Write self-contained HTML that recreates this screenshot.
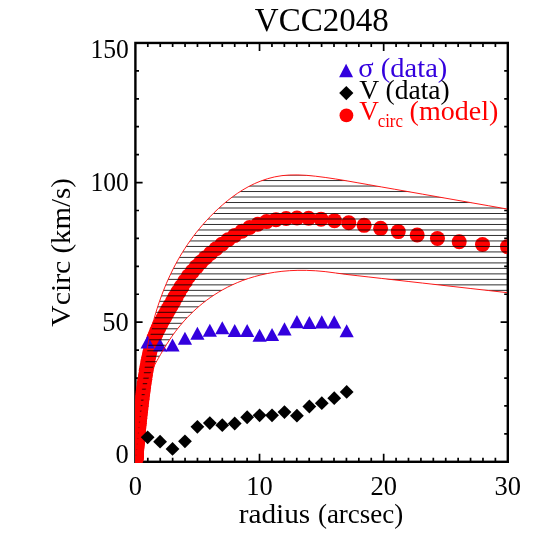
<!DOCTYPE html>
<html><head><meta charset="utf-8"><title>VCC2048</title>
<style>html,body{margin:0;padding:0;background:#fff}svg{display:block}</style></head>
<body>
<svg width="548" height="548" viewBox="0 0 548 548">
<defs><clipPath id="pc"><rect x="135.20" y="43.65" width="371.90" height="418.85"/></clipPath>
<clipPath id="hc"><polygon points="135.50,461.30 135.51,459.35 135.51,459.31 135.51,459.27 135.51,459.24 135.52,459.20 135.52,459.16 135.52,459.12 135.52,459.08 135.52,459.04 135.52,458.99 135.52,458.95 135.52,458.91 135.52,458.86 135.52,458.81 135.53,458.77 135.53,458.72 135.53,458.67 135.53,458.62 135.53,458.57 135.53,458.52 135.53,458.47 135.54,458.42 135.54,458.36 135.54,458.31 135.54,458.25 135.55,458.19 135.55,458.14 135.55,458.08 135.55,458.02 135.56,457.95 135.56,457.89 135.56,457.83 135.57,457.76 135.57,457.69 135.57,457.62 135.58,457.55 135.58,457.48 135.58,457.41 135.59,457.33 135.59,457.25 135.60,457.17 135.60,457.09 135.61,457.01 135.62,456.92 135.62,456.83 135.63,456.74 135.63,456.65 135.64,456.55 135.65,456.45 135.66,456.35 135.67,456.24 135.67,456.14 135.68,456.02 135.69,455.91 135.70,455.79 135.71,455.66 135.73,455.53 135.74,455.40 135.75,455.26 135.76,455.12 135.78,454.97 135.79,454.81 135.81,454.65 135.82,454.48 135.84,454.31 135.86,454.12 135.88,453.93 135.90,453.73 135.92,453.52 135.94,453.30 135.97,453.07 135.99,452.83 136.02,452.58 136.04,452.31 136.07,452.03 136.10,451.74 136.14,451.43 136.17,451.10 136.21,450.76 136.24,450.40 136.28,450.01 136.32,449.61 136.37,449.18 136.41,448.73 136.46,448.25 136.51,447.74 136.57,447.20 136.62,446.63 136.68,446.03 136.75,445.39 136.81,444.71 136.88,443.99 136.96,443.22 137.03,442.41 137.12,441.54 137.20,440.62 137.29,439.64 137.39,438.60 137.49,437.49 137.59,436.31 137.70,435.04 137.82,433.70 137.94,432.26 138.07,430.72 138.21,429.08 138.36,427.33 138.51,425.48 138.67,423.52 138.84,421.46 139.01,419.29 139.20,417.02 139.40,414.65 139.60,412.17 139.82,409.60 140.05,406.93 140.29,404.17 140.55,401.31 140.82,398.37 141.10,395.35 141.40,392.25 141.71,389.07 142.04,385.84 142.39,382.56 142.76,379.23 143.14,375.87 143.55,372.49 143.98,369.11 144.43,365.73 144.90,362.38 145.40,359.04 145.93,355.71 146.48,352.40 147.07,349.10 147.68,345.80 148.33,342.51 149.01,339.22 149.73,335.93 150.49,332.63 151.28,329.32 152.12,325.99 153.00,322.63 153.94,319.23 154.92,315.80 155.95,312.33 157.04,308.82 158.18,305.28 159.39,301.71 160.66,298.10 161.99,294.46 163.40,290.78 164.89,287.08 166.45,283.34 168.09,279.58 169.83,275.79 171.65,271.97 173.57,268.12 175.60,264.26 177.73,260.37 179.98,256.46 182.34,252.53 184.83,248.58 187.45,244.62 190.22,240.64 193.13,236.66 196.19,232.66 199.42,228.66 202.81,224.66 206.39,220.66 210.16,216.65 214.13,212.65 218.31,208.67 222.72,204.71 227.35,200.82 232.24,197.02 237.38,193.37 242.80,189.88 248.50,186.62 254.51,183.64 260.84,180.99 267.50,178.72 274.52,176.92 281.91,175.65 289.70,174.99 297.90,174.91 306.53,175.34 315.62,176.22 325.20,177.45 335.29,178.94 345.91,180.69 357.10,182.66 368.88,184.73 381.29,186.91 394.35,189.20 408.12,191.62 422.61,194.17 437.88,196.85 453.96,199.67 470.89,202.65 488.72,205.78 507.50,209.08 507.50,292.69 488.72,290.56 470.89,288.54 453.96,286.62 437.88,284.80 422.61,283.08 408.12,281.44 394.35,279.88 381.29,278.40 368.88,276.99 357.10,275.66 345.91,274.39 335.29,272.94 325.20,271.62 315.62,270.77 306.53,270.36 297.90,270.34 289.70,270.67 281.91,271.33 274.52,272.28 267.50,273.49 260.84,274.94 254.51,276.60 248.50,278.44 242.80,280.45 237.38,282.60 232.24,284.88 227.35,287.28 222.72,289.76 218.31,292.33 214.13,294.97 210.16,297.67 206.39,300.41 202.81,303.19 199.42,306.00 196.19,308.82 193.13,311.66 190.22,314.50 187.45,317.34 184.83,320.17 182.34,322.99 179.98,325.80 177.73,328.58 175.60,331.34 173.57,334.07 171.65,336.77 169.83,339.44 168.09,342.07 166.45,344.65 164.89,347.18 163.40,349.64 161.99,352.01 160.66,354.30 159.39,356.49 158.18,358.58 157.04,360.60 155.95,362.58 154.92,364.52 153.94,366.46 153.00,368.40 152.12,370.36 151.28,372.36 150.49,374.39 149.73,376.48 149.01,378.62 148.33,380.84 147.68,383.16 147.07,385.59 146.48,388.10 145.93,390.64 145.40,393.16 144.90,395.63 144.43,398.00 143.98,400.26 143.55,402.38 143.14,404.42 142.76,406.38 142.39,408.30 142.04,410.19 141.71,412.07 141.40,413.97 141.10,415.89 140.82,417.84 140.55,419.83 140.29,421.81 140.05,423.79 139.82,425.73 139.60,427.62 139.40,429.44 139.20,431.19 139.01,432.85 138.84,434.43 138.67,435.91 138.51,437.32 138.36,438.65 138.21,439.90 138.07,441.09 137.94,442.21 137.82,443.28 137.70,444.28 137.59,445.23 137.49,446.13 137.39,446.98 137.29,447.79 137.20,448.55 137.12,449.27 137.03,449.95 136.96,450.60 136.88,451.21 136.81,451.78 136.75,452.33 136.68,452.85 136.62,453.33 136.57,453.80 136.51,454.23 136.46,454.65 136.41,455.04 136.37,455.41 136.32,455.76 136.28,456.09 136.24,456.40 136.21,456.70 136.17,456.98 136.14,457.24 136.10,457.49 136.07,457.73 136.04,457.96 136.02,458.17 135.99,458.37 135.97,458.56 135.94,458.74 135.92,458.90 135.90,459.06 135.88,459.22 135.86,459.36 135.84,459.49 135.82,459.62 135.81,459.74 135.79,459.85 135.78,459.96 135.76,460.06 135.75,460.16 135.74,460.25 135.73,460.33 135.71,460.41 135.70,460.49 135.69,460.56 135.68,460.63 135.67,460.69 135.67,460.75 135.66,460.81 135.65,460.86 135.64,460.91 135.63,460.96 135.63,461.00 135.62,461.04 135.62,461.08 135.61,461.12 135.60,461.15 135.60,461.18 135.59,461.21 135.59,461.24 135.58,461.27 135.58,461.29 135.58,461.31 135.57,461.33 135.57,461.35 135.57,461.37 135.56,461.39 135.56,461.41 135.56,461.42 135.55,461.43 135.55,461.45 135.55,461.46 135.55,461.47 135.54,461.48 135.54,461.49 135.54,461.50 135.54,461.50 135.53,461.51 135.53,461.52 135.53,461.52 135.53,461.53 135.53,461.53 135.53,461.54 135.53,461.54 135.52,461.54 135.52,461.55 135.52,461.55 135.52,461.55 135.52,461.55 135.52,461.55 135.52,461.55 135.52,461.56 135.52,461.56 135.52,461.56 135.51,461.56 135.51,461.56 135.51,461.55 135.51,461.55 135.50,461.30"/></clipPath></defs>
<rect width="548" height="548" fill="#fff"/>
<rect x="135.40" y="42.95" width="372.40" height="418.85" fill="none" stroke="#000" stroke-width="2.4"/>
<path d="M147.81 461.80v-4.00M147.81 42.95v4.00M160.23 461.80v-4.00M160.23 42.95v4.00M172.64 461.80v-4.00M172.64 42.95v4.00M185.05 461.80v-4.00M185.05 42.95v4.00M197.47 461.80v-4.00M197.47 42.95v4.00M209.88 461.80v-4.00M209.88 42.95v4.00M222.29 461.80v-4.00M222.29 42.95v4.00M234.71 461.80v-4.00M234.71 42.95v4.00M247.12 461.80v-4.00M247.12 42.95v4.00M259.53 461.80v-8.00M259.53 42.95v8.00M271.95 461.80v-4.00M271.95 42.95v4.00M284.36 461.80v-4.00M284.36 42.95v4.00M296.77 461.80v-4.00M296.77 42.95v4.00M309.19 461.80v-4.00M309.19 42.95v4.00M321.60 461.80v-4.00M321.60 42.95v4.00M334.01 461.80v-4.00M334.01 42.95v4.00M346.43 461.80v-4.00M346.43 42.95v4.00M358.84 461.80v-4.00M358.84 42.95v4.00M371.25 461.80v-4.00M371.25 42.95v4.00M383.67 461.80v-8.00M383.67 42.95v8.00M396.08 461.80v-4.00M396.08 42.95v4.00M408.49 461.80v-4.00M408.49 42.95v4.00M420.91 461.80v-4.00M420.91 42.95v4.00M433.32 461.80v-4.00M433.32 42.95v4.00M445.73 461.80v-4.00M445.73 42.95v4.00M458.15 461.80v-4.00M458.15 42.95v4.00M470.56 461.80v-4.00M470.56 42.95v4.00M482.97 461.80v-4.00M482.97 42.95v4.00M495.39 461.80v-4.00M495.39 42.95v4.00M135.40 433.88h3.60M507.80 433.88h-3.60M135.40 405.95h3.60M507.80 405.95h-3.60M135.40 378.03h3.60M507.80 378.03h-3.60M135.40 350.11h3.60M507.80 350.11h-3.60M135.40 322.18h7.20M507.80 322.18h-7.20M135.40 294.26h3.60M507.80 294.26h-3.60M135.40 266.34h3.60M507.80 266.34h-3.60M135.40 238.41h3.60M507.80 238.41h-3.60M135.40 210.49h3.60M507.80 210.49h-3.60M135.40 182.57h7.20M507.80 182.57h-7.20M135.40 154.64h3.60M507.80 154.64h-3.60M135.40 126.72h3.60M507.80 126.72h-3.60M135.40 98.80h3.60M507.80 98.80h-3.60M135.40 70.87h3.60M507.80 70.87h-3.60" stroke="#000" stroke-width="1.7" fill="none"/>
<g clip-path="url(#pc)">
<circle cx="135.86" cy="459.59" r="7.50" fill="#f00"/>
<circle cx="135.88" cy="459.27" r="7.50" fill="#f00"/>
<circle cx="135.91" cy="458.94" r="7.50" fill="#f00"/>
<circle cx="135.94" cy="458.57" r="7.50" fill="#f00"/>
<circle cx="135.97" cy="458.19" r="7.50" fill="#f00"/>
<circle cx="136.00" cy="457.77" r="7.50" fill="#f00"/>
<circle cx="136.04" cy="457.33" r="7.50" fill="#f00"/>
<circle cx="136.08" cy="456.85" r="7.50" fill="#f00"/>
<circle cx="136.12" cy="456.34" r="7.50" fill="#f00"/>
<circle cx="136.16" cy="455.80" r="7.50" fill="#f00"/>
<circle cx="136.21" cy="455.22" r="7.50" fill="#f00"/>
<circle cx="136.26" cy="454.61" r="7.50" fill="#f00"/>
<circle cx="136.32" cy="453.95" r="7.50" fill="#f00"/>
<circle cx="136.38" cy="453.25" r="7.50" fill="#f00"/>
<circle cx="136.44" cy="452.50" r="7.50" fill="#f00"/>
<circle cx="136.51" cy="451.71" r="7.50" fill="#f00"/>
<circle cx="136.58" cy="450.87" r="7.50" fill="#f00"/>
<circle cx="136.66" cy="449.97" r="7.50" fill="#f00"/>
<circle cx="136.74" cy="449.02" r="7.50" fill="#f00"/>
<circle cx="136.83" cy="448.01" r="7.50" fill="#f00"/>
<circle cx="136.93" cy="446.94" r="7.50" fill="#f00"/>
<circle cx="137.03" cy="445.80" r="7.50" fill="#f00"/>
<circle cx="137.14" cy="444.59" r="7.50" fill="#f00"/>
<circle cx="137.26" cy="443.31" r="7.50" fill="#f00"/>
<circle cx="137.39" cy="441.96" r="7.50" fill="#f00"/>
<circle cx="137.52" cy="440.52" r="7.50" fill="#f00"/>
<circle cx="137.67" cy="439.00" r="7.50" fill="#f00"/>
<circle cx="137.82" cy="437.40" r="7.50" fill="#f00"/>
<circle cx="137.99" cy="435.70" r="7.50" fill="#f00"/>
<circle cx="138.17" cy="433.90" r="7.50" fill="#f00"/>
<circle cx="138.36" cy="432.00" r="7.50" fill="#f00"/>
<circle cx="138.57" cy="430.00" r="7.50" fill="#f00"/>
<circle cx="138.79" cy="427.88" r="7.50" fill="#f00"/>
<circle cx="139.02" cy="425.65" r="7.50" fill="#f00"/>
<circle cx="139.28" cy="423.29" r="7.50" fill="#f00"/>
<circle cx="139.55" cy="420.81" r="7.50" fill="#f00"/>
<circle cx="139.84" cy="418.19" r="7.50" fill="#f00"/>
<circle cx="140.16" cy="415.43" r="7.50" fill="#f00"/>
<circle cx="140.49" cy="412.53" r="7.50" fill="#f00"/>
<circle cx="140.85" cy="409.48" r="7.50" fill="#f00"/>
<circle cx="141.24" cy="406.26" r="7.50" fill="#f00"/>
<circle cx="141.65" cy="402.89" r="7.50" fill="#f00"/>
<circle cx="142.09" cy="399.34" r="7.50" fill="#f00"/>
<circle cx="142.57" cy="395.63" r="7.50" fill="#f00"/>
<circle cx="143.07" cy="391.76" r="7.50" fill="#f00"/>
<circle cx="143.62" cy="387.74" r="7.50" fill="#f00"/>
<circle cx="144.20" cy="383.60" r="7.50" fill="#f00"/>
<circle cx="144.83" cy="379.35" r="7.50" fill="#f00"/>
<circle cx="145.50" cy="375.01" r="7.50" fill="#f00"/>
<circle cx="146.22" cy="370.60" r="7.50" fill="#f00"/>
<circle cx="147.00" cy="366.17" r="7.50" fill="#f00"/>
<circle cx="147.82" cy="361.74" r="7.51" fill="#f00"/>
<circle cx="148.71" cy="357.36" r="7.51" fill="#f00"/>
<circle cx="149.66" cy="353.07" r="7.52" fill="#f00"/>
<circle cx="150.68" cy="348.94" r="7.54" fill="#f00"/>
<circle cx="151.78" cy="345.02" r="7.56" fill="#f00"/>
<circle cx="152.95" cy="341.29" r="7.59" fill="#f00"/>
<circle cx="154.20" cy="337.75" r="7.63" fill="#f00"/>
<circle cx="155.55" cy="334.34" r="7.68" fill="#f00"/>
<circle cx="157.00" cy="331.04" r="7.74" fill="#f00"/>
<circle cx="158.54" cy="327.79" r="7.81" fill="#f00"/>
<circle cx="160.20" cy="324.53" r="7.88" fill="#f00"/>
<circle cx="161.98" cy="321.19" r="7.95" fill="#f00"/>
<circle cx="163.89" cy="317.70" r="8.01" fill="#f00"/>
<circle cx="165.93" cy="314.00" r="8.06" fill="#f00"/>
<circle cx="168.12" cy="310.09" r="8.09" fill="#f00"/>
<circle cx="170.47" cy="305.94" r="8.10" fill="#f00"/>
<circle cx="172.99" cy="301.51" r="8.09" fill="#f00"/>
<circle cx="175.69" cy="296.79" r="8.05" fill="#f00"/>
<circle cx="178.59" cy="291.77" r="8.00" fill="#f00"/>
<circle cx="181.69" cy="286.59" r="7.93" fill="#f00"/>
<circle cx="185.02" cy="281.39" r="7.86" fill="#f00"/>
<circle cx="188.58" cy="276.35" r="7.79" fill="#f00"/>
<circle cx="192.40" cy="271.48" r="7.73" fill="#f00"/>
<circle cx="196.50" cy="266.78" r="7.67" fill="#f00"/>
<circle cx="200.89" cy="262.20" r="7.62" fill="#f00"/>
<circle cx="205.60" cy="257.71" r="7.58" fill="#f00"/>
<circle cx="210.65" cy="253.25" r="7.56" fill="#f00"/>
<circle cx="216.06" cy="248.76" r="7.54" fill="#f00"/>
<circle cx="221.87" cy="244.24" r="7.52" fill="#f00"/>
<circle cx="228.09" cy="239.77" r="7.51" fill="#f00"/>
<circle cx="234.75" cy="235.43" r="7.51" fill="#f00"/>
<circle cx="241.90" cy="231.32" r="7.50" fill="#f00"/>
<circle cx="249.56" cy="227.55" r="7.50" fill="#f00"/>
<circle cx="257.78" cy="224.26" r="7.50" fill="#f00"/>
<circle cx="266.58" cy="221.60" r="7.50" fill="#f00"/>
<circle cx="276.02" cy="219.67" r="7.50" fill="#f00"/>
<circle cx="286.14" cy="218.47" r="7.50" fill="#f00"/>
<circle cx="296.99" cy="218.00" r="7.50" fill="#f00"/>
<circle cx="308.62" cy="218.24" r="7.50" fill="#f00"/>
<circle cx="321.09" cy="219.14" r="7.50" fill="#f00"/>
<circle cx="334.45" cy="220.66" r="7.50" fill="#f00"/>
<circle cx="348.78" cy="222.76" r="7.50" fill="#f00"/>
<circle cx="364.14" cy="225.34" r="7.50" fill="#f00"/>
<circle cx="380.60" cy="228.33" r="7.50" fill="#f00"/>
<circle cx="398.25" cy="231.60" r="7.50" fill="#f00"/>
<circle cx="417.17" cy="235.03" r="7.50" fill="#f00"/>
<circle cx="437.46" cy="238.46" r="7.50" fill="#f00"/>
<circle cx="459.20" cy="241.69" r="7.50" fill="#f00"/>
<circle cx="482.51" cy="244.51" r="7.50" fill="#f00"/>
<circle cx="507.50" cy="246.67" r="7.50" fill="#f00"/>
<polygon points="140.54,348.50 147.64,335.40 154.74,348.50" fill="#3300de"/>
<polygon points="152.98,351.56 160.08,338.46 167.18,351.56" fill="#3300de"/>
<polygon points="165.42,351.56 172.52,338.46 179.62,351.56" fill="#3300de"/>
<polygon points="177.86,344.87 184.96,331.77 192.06,344.87" fill="#3300de"/>
<polygon points="190.30,339.86 197.40,326.76 204.50,339.86" fill="#3300de"/>
<polygon points="202.74,336.79 209.84,323.69 216.94,336.79" fill="#3300de"/>
<polygon points="215.18,334.28 222.28,321.18 229.38,334.28" fill="#3300de"/>
<polygon points="227.62,337.07 234.72,323.97 241.82,337.07" fill="#3300de"/>
<polygon points="240.06,337.07 247.16,323.97 254.26,337.07" fill="#3300de"/>
<polygon points="252.50,341.81 259.60,328.71 266.70,341.81" fill="#3300de"/>
<polygon points="264.94,341.11 272.04,328.01 279.14,341.11" fill="#3300de"/>
<polygon points="277.38,335.40 284.48,322.30 291.58,335.40" fill="#3300de"/>
<polygon points="289.82,328.15 296.92,315.05 304.02,328.15" fill="#3300de"/>
<polygon points="302.26,328.99 309.36,315.89 316.46,328.99" fill="#3300de"/>
<polygon points="314.70,328.43 321.80,315.33 328.90,328.43" fill="#3300de"/>
<polygon points="327.14,328.43 334.24,315.33 341.34,328.43" fill="#3300de"/>
<polygon points="339.58,337.35 346.68,324.25 353.78,337.35" fill="#3300de"/>
<polygon points="140.74,437.31 147.64,430.41 154.54,437.31 147.64,444.21" fill="#000"/>
<polygon points="153.18,441.63 160.08,434.73 166.98,441.63 160.08,448.53" fill="#000"/>
<polygon points="165.62,448.88 172.52,441.98 179.42,448.88 172.52,455.78" fill="#000"/>
<polygon points="178.06,441.35 184.96,434.45 191.86,441.35 184.96,448.25" fill="#000"/>
<polygon points="190.50,426.86 197.40,419.96 204.30,426.86 197.40,433.76" fill="#000"/>
<polygon points="202.94,423.10 209.84,416.20 216.74,423.10 209.84,430.00" fill="#000"/>
<polygon points="215.38,425.19 222.28,418.29 229.18,425.19 222.28,432.09" fill="#000"/>
<polygon points="227.82,423.52 234.72,416.62 241.62,423.52 234.72,430.42" fill="#000"/>
<polygon points="240.26,417.25 247.16,410.35 254.06,417.25 247.16,424.15" fill="#000"/>
<polygon points="252.70,415.30 259.60,408.40 266.50,415.30 259.60,422.20" fill="#000"/>
<polygon points="265.14,415.30 272.04,408.40 278.94,415.30 272.04,422.20" fill="#000"/>
<polygon points="277.58,412.09 284.48,405.19 291.38,412.09 284.48,418.99" fill="#000"/>
<polygon points="290.02,415.71 296.92,408.81 303.82,415.71 296.92,422.61" fill="#000"/>
<polygon points="302.46,406.52 309.36,399.62 316.26,406.52 309.36,413.42" fill="#000"/>
<polygon points="314.90,403.17 321.80,396.27 328.70,403.17 321.80,410.07" fill="#000"/>
<polygon points="327.34,398.16 334.24,391.26 341.14,398.16 334.24,405.06" fill="#000"/>
<polygon points="339.78,391.89 346.68,384.99 353.58,391.89 346.68,398.79" fill="#000"/>
<g clip-path="url(#hc)" stroke="#000" stroke-width="0.82">
<line x1="130" x2="512" y1="153.11" y2="153.11"/>
<line x1="130" x2="512" y1="158.60" y2="158.60"/>
<line x1="130" x2="512" y1="164.09" y2="164.09"/>
<line x1="130" x2="512" y1="169.58" y2="169.58"/>
<line x1="130" x2="512" y1="175.07" y2="175.07"/>
<line x1="130" x2="512" y1="180.56" y2="180.56"/>
<line x1="130" x2="512" y1="186.05" y2="186.05"/>
<line x1="130" x2="512" y1="191.54" y2="191.54"/>
<line x1="130" x2="512" y1="197.03" y2="197.03"/>
<line x1="130" x2="512" y1="202.52" y2="202.52"/>
<line x1="130" x2="512" y1="208.01" y2="208.01"/>
<line x1="130" x2="512" y1="213.50" y2="213.50"/>
<line x1="130" x2="512" y1="218.99" y2="218.99"/>
<line x1="130" x2="512" y1="224.48" y2="224.48"/>
<line x1="130" x2="512" y1="229.97" y2="229.97"/>
<line x1="130" x2="512" y1="235.46" y2="235.46"/>
<line x1="130" x2="512" y1="240.95" y2="240.95"/>
<line x1="130" x2="512" y1="246.44" y2="246.44"/>
<line x1="130" x2="512" y1="251.93" y2="251.93"/>
<line x1="130" x2="512" y1="257.42" y2="257.42"/>
<line x1="130" x2="512" y1="262.91" y2="262.91"/>
<line x1="130" x2="512" y1="268.40" y2="268.40"/>
<line x1="130" x2="512" y1="273.89" y2="273.89"/>
<line x1="130" x2="512" y1="279.38" y2="279.38"/>
<line x1="130" x2="512" y1="284.87" y2="284.87"/>
<line x1="130" x2="512" y1="290.36" y2="290.36"/>
<line x1="130" x2="512" y1="295.85" y2="295.85"/>
<line x1="130" x2="512" y1="301.34" y2="301.34"/>
<line x1="130" x2="512" y1="306.83" y2="306.83"/>
<line x1="130" x2="512" y1="312.32" y2="312.32"/>
<line x1="130" x2="512" y1="317.81" y2="317.81"/>
<line x1="130" x2="512" y1="323.30" y2="323.30"/>
<line x1="130" x2="512" y1="328.79" y2="328.79"/>
<line x1="130" x2="512" y1="334.28" y2="334.28"/>
<line x1="130" x2="512" y1="339.77" y2="339.77"/>
<line x1="130" x2="512" y1="345.26" y2="345.26"/>
<line x1="130" x2="512" y1="350.75" y2="350.75"/>
<line x1="130" x2="512" y1="356.24" y2="356.24"/>
<line x1="130" x2="512" y1="361.73" y2="361.73"/>
<line x1="130" x2="512" y1="367.22" y2="367.22"/>
<line x1="130" x2="512" y1="372.71" y2="372.71"/>
<line x1="130" x2="512" y1="378.20" y2="378.20"/>
<line x1="130" x2="512" y1="383.69" y2="383.69"/>
<line x1="130" x2="512" y1="389.18" y2="389.18"/>
<line x1="130" x2="512" y1="394.67" y2="394.67"/>
<line x1="130" x2="512" y1="400.16" y2="400.16"/>
<line x1="130" x2="512" y1="405.65" y2="405.65"/>
<line x1="130" x2="512" y1="411.14" y2="411.14"/>
<line x1="130" x2="512" y1="416.63" y2="416.63"/>
<line x1="130" x2="512" y1="422.12" y2="422.12"/>
<line x1="130" x2="512" y1="427.61" y2="427.61"/>
<line x1="130" x2="512" y1="433.10" y2="433.10"/>
<line x1="130" x2="512" y1="438.59" y2="438.59"/>
<line x1="130" x2="512" y1="444.08" y2="444.08"/>
<line x1="130" x2="512" y1="449.57" y2="449.57"/>
<line x1="130" x2="512" y1="455.06" y2="455.06"/>
<line x1="130" x2="512" y1="460.55" y2="460.55"/>
<line x1="130" x2="512" y1="466.04" y2="466.04"/>
</g>
<polyline fill="none" stroke="#f00" stroke-width="0.9" points="135.50,461.30 135.51,459.35 135.51,459.31 135.51,459.27 135.51,459.24 135.52,459.20 135.52,459.16 135.52,459.12 135.52,459.08 135.52,459.04 135.52,458.99 135.52,458.95 135.52,458.91 135.52,458.86 135.52,458.81 135.53,458.77 135.53,458.72 135.53,458.67 135.53,458.62 135.53,458.57 135.53,458.52 135.53,458.47 135.54,458.42 135.54,458.36 135.54,458.31 135.54,458.25 135.55,458.19 135.55,458.14 135.55,458.08 135.55,458.02 135.56,457.95 135.56,457.89 135.56,457.83 135.57,457.76 135.57,457.69 135.57,457.62 135.58,457.55 135.58,457.48 135.58,457.41 135.59,457.33 135.59,457.25 135.60,457.17 135.60,457.09 135.61,457.01 135.62,456.92 135.62,456.83 135.63,456.74 135.63,456.65 135.64,456.55 135.65,456.45 135.66,456.35 135.67,456.24 135.67,456.14 135.68,456.02 135.69,455.91 135.70,455.79 135.71,455.66 135.73,455.53 135.74,455.40 135.75,455.26 135.76,455.12 135.78,454.97 135.79,454.81 135.81,454.65 135.82,454.48 135.84,454.31 135.86,454.12 135.88,453.93 135.90,453.73 135.92,453.52 135.94,453.30 135.97,453.07 135.99,452.83 136.02,452.58 136.04,452.31 136.07,452.03 136.10,451.74 136.14,451.43 136.17,451.10 136.21,450.76 136.24,450.40 136.28,450.01 136.32,449.61 136.37,449.18 136.41,448.73 136.46,448.25 136.51,447.74 136.57,447.20 136.62,446.63 136.68,446.03 136.75,445.39 136.81,444.71 136.88,443.99 136.96,443.22 137.03,442.41 137.12,441.54 137.20,440.62 137.29,439.64 137.39,438.60 137.49,437.49 137.59,436.31 137.70,435.04 137.82,433.70 137.94,432.26 138.07,430.72 138.21,429.08 138.36,427.33 138.51,425.48 138.67,423.52 138.84,421.46 139.01,419.29 139.20,417.02 139.40,414.65 139.60,412.17 139.82,409.60 140.05,406.93 140.29,404.17 140.55,401.31 140.82,398.37 141.10,395.35 141.40,392.25 141.71,389.07 142.04,385.84 142.39,382.56 142.76,379.23 143.14,375.87 143.55,372.49 143.98,369.11 144.43,365.73 144.90,362.38 145.40,359.04 145.93,355.71 146.48,352.40 147.07,349.10 147.68,345.80 148.33,342.51 149.01,339.22 149.73,335.93 150.49,332.63 151.28,329.32 152.12,325.99 153.00,322.63 153.94,319.23 154.92,315.80 155.95,312.33 157.04,308.82 158.18,305.28 159.39,301.71 160.66,298.10 161.99,294.46 163.40,290.78 164.89,287.08 166.45,283.34 168.09,279.58 169.83,275.79 171.65,271.97 173.57,268.12 175.60,264.26 177.73,260.37 179.98,256.46 182.34,252.53 184.83,248.58 187.45,244.62 190.22,240.64 193.13,236.66 196.19,232.66 199.42,228.66 202.81,224.66 206.39,220.66 210.16,216.65 214.13,212.65 218.31,208.67 222.72,204.71 227.35,200.82 232.24,197.02 237.38,193.37 242.80,189.88 248.50,186.62 254.51,183.64 260.84,180.99 267.50,178.72 274.52,176.92 281.91,175.65 289.70,174.99 297.90,174.91 306.53,175.34 315.62,176.22 325.20,177.45 335.29,178.94 345.91,180.69 357.10,182.66 368.88,184.73 381.29,186.91 394.35,189.20 408.12,191.62 422.61,194.17 437.88,196.85 453.96,199.67 470.89,202.65 488.72,205.78 507.50,209.08"/>
<polyline fill="none" stroke="#f00" stroke-width="0.9" points="135.50,461.30 135.51,461.55 135.51,461.55 135.51,461.56 135.51,461.56 135.52,461.56 135.52,461.56 135.52,461.56 135.52,461.55 135.52,461.55 135.52,461.55 135.52,461.55 135.52,461.55 135.52,461.55 135.52,461.54 135.53,461.54 135.53,461.54 135.53,461.53 135.53,461.53 135.53,461.52 135.53,461.52 135.53,461.51 135.54,461.50 135.54,461.50 135.54,461.49 135.54,461.48 135.55,461.47 135.55,461.46 135.55,461.45 135.55,461.43 135.56,461.42 135.56,461.41 135.56,461.39 135.57,461.37 135.57,461.35 135.57,461.33 135.58,461.31 135.58,461.29 135.58,461.27 135.59,461.24 135.59,461.21 135.60,461.18 135.60,461.15 135.61,461.12 135.62,461.08 135.62,461.04 135.63,461.00 135.63,460.96 135.64,460.91 135.65,460.86 135.66,460.81 135.67,460.75 135.67,460.69 135.68,460.63 135.69,460.56 135.70,460.49 135.71,460.41 135.73,460.33 135.74,460.25 135.75,460.16 135.76,460.06 135.78,459.96 135.79,459.85 135.81,459.74 135.82,459.62 135.84,459.49 135.86,459.36 135.88,459.22 135.90,459.06 135.92,458.90 135.94,458.74 135.97,458.56 135.99,458.37 136.02,458.17 136.04,457.96 136.07,457.73 136.10,457.49 136.14,457.24 136.17,456.98 136.21,456.70 136.24,456.40 136.28,456.09 136.32,455.76 136.37,455.41 136.41,455.04 136.46,454.65 136.51,454.23 136.57,453.80 136.62,453.33 136.68,452.85 136.75,452.33 136.81,451.78 136.88,451.21 136.96,450.60 137.03,449.95 137.12,449.27 137.20,448.55 137.29,447.79 137.39,446.98 137.49,446.13 137.59,445.23 137.70,444.28 137.82,443.28 137.94,442.21 138.07,441.09 138.21,439.90 138.36,438.65 138.51,437.32 138.67,435.91 138.84,434.43 139.01,432.85 139.20,431.19 139.40,429.44 139.60,427.62 139.82,425.73 140.05,423.79 140.29,421.81 140.55,419.83 140.82,417.84 141.10,415.89 141.40,413.97 141.71,412.07 142.04,410.19 142.39,408.30 142.76,406.38 143.14,404.42 143.55,402.38 143.98,400.26 144.43,398.00 144.90,395.63 145.40,393.16 145.93,390.64 146.48,388.10 147.07,385.59 147.68,383.16 148.33,380.84 149.01,378.62 149.73,376.48 150.49,374.39 151.28,372.36 152.12,370.36 153.00,368.40 153.94,366.46 154.92,364.52 155.95,362.58 157.04,360.60 158.18,358.58 159.39,356.49 160.66,354.30 161.99,352.01 163.40,349.64 164.89,347.18 166.45,344.65 168.09,342.07 169.83,339.44 171.65,336.77 173.57,334.07 175.60,331.34 177.73,328.58 179.98,325.80 182.34,322.99 184.83,320.17 187.45,317.34 190.22,314.50 193.13,311.66 196.19,308.82 199.42,306.00 202.81,303.19 206.39,300.41 210.16,297.67 214.13,294.97 218.31,292.33 222.72,289.76 227.35,287.28 232.24,284.88 237.38,282.60 242.80,280.45 248.50,278.44 254.51,276.60 260.84,274.94 267.50,273.49 274.52,272.28 281.91,271.33 289.70,270.67 297.90,270.34 306.53,270.36 315.62,270.77 325.20,271.62 335.29,272.94 345.91,274.39 357.10,275.66 368.88,276.99 381.29,278.40 394.35,279.88 408.12,281.44 422.61,283.08 437.88,284.80 453.96,286.62 470.89,288.54 488.72,290.56 507.50,292.69"/>
</g>
<g font-family="'Liberation Serif', serif" fill="#000" opacity="0.999">
<text x="321.8" y="30.7" font-size="34.6" text-anchor="middle" textLength="134" lengthAdjust="spacingAndGlyphs">VCC2048</text>
<text x="128.8" y="462.60" font-size="26.5" text-anchor="end">0</text>
<text x="128.8" y="330.78" font-size="26.5" text-anchor="end">50</text>
<text x="128.8" y="190.97" font-size="26.5" text-anchor="end" textLength="38.4" lengthAdjust="spacingAndGlyphs">100</text>
<text x="128.8" y="58.00" font-size="26.5" text-anchor="end" textLength="38.4" lengthAdjust="spacingAndGlyphs">150</text>
<text x="135.40" y="494.6" font-size="26.5" text-anchor="middle">0</text>
<text x="259.53" y="494.6" font-size="26.5" text-anchor="middle">10</text>
<text x="383.67" y="494.6" font-size="26.5" text-anchor="middle">20</text>
<text x="507.80" y="494.6" font-size="26.5" text-anchor="middle">30</text>
<text x="238.7" y="522.6" font-size="27.2" textLength="71.6" lengthAdjust="spacingAndGlyphs">radius</text>
<text x="317.9" y="522.6" font-size="27.2" textLength="85.4" lengthAdjust="spacingAndGlyphs">(arcsec)</text>
<text transform="translate(69.6,326.7) rotate(-90)" font-size="27.2" textLength="66" lengthAdjust="spacingAndGlyphs">Vcirc</text>
<text transform="translate(69.6,253.6) rotate(-90)" font-size="27.2" textLength="75.4" lengthAdjust="spacingAndGlyphs">(km/s)</text>
</g>
<g font-family="'Liberation Serif', serif" font-size="27.2" opacity="0.999">
<polygon points="339.1,77.3 346.1,63.8 353.1,77.3" fill="#3300de"/>
<text x="358.3" y="76.5" fill="#3300de" textLength="89" lengthAdjust="spacingAndGlyphs">σ (data)</text>
<polygon points="339.2,93.1 346.3,86.0 353.4,93.1 346.3,100.2" fill="#000"/>
<text x="359.2" y="99.1" fill="#000" textLength="90.5" lengthAdjust="spacingAndGlyphs">V (data)</text>
<circle cx="346.4" cy="115.4" r="6.9" fill="#f00"/>
<text x="359.2" y="120.4" fill="#f00">V</text>
<text x="377.7" y="126.5" fill="#f00" font-size="18.8" textLength="25.3" lengthAdjust="spacingAndGlyphs">circ</text>
<text x="409.6" y="120.4" fill="#f00" textLength="88.8" lengthAdjust="spacingAndGlyphs">(model)</text>
</g>
</svg>
</body></html>
